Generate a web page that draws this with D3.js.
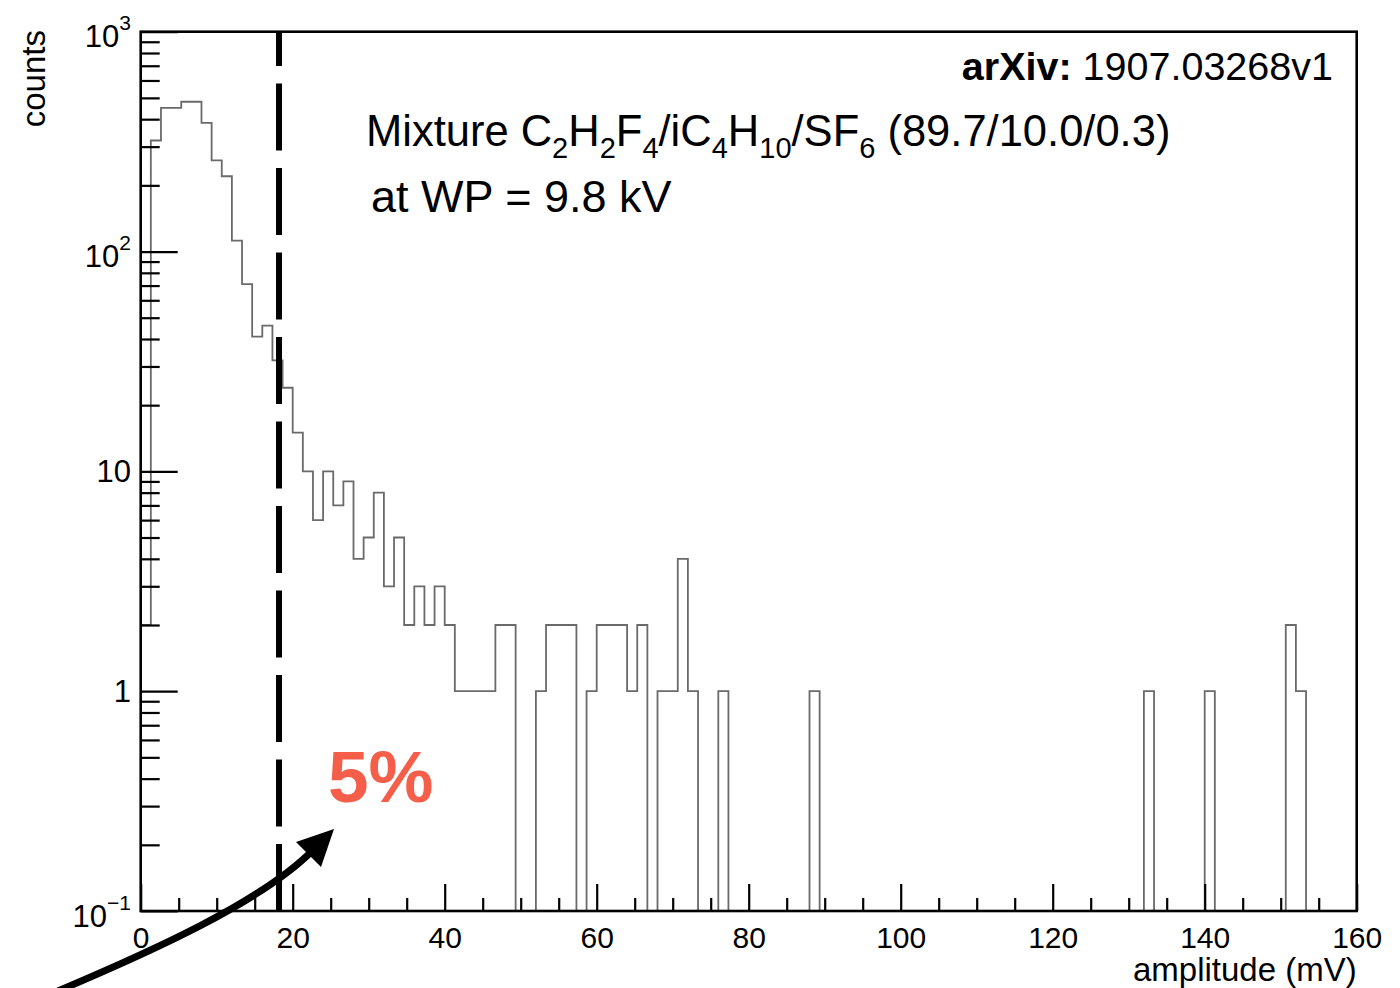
<!DOCTYPE html>
<html>
<head>
<meta charset="utf-8">
<script src="https://cdn.jsdelivr.net/npm/d3@7/dist/d3.min.js"></script>
<style>
  html, body { margin: 0; padding: 0; background: #fff; }
  svg { display: block; }
  text { font-family: "Liberation Sans", Arial, Helvetica, sans-serif; }
</style>
</head>
<body>
<svg id="chart" width="1400" height="988"></svg>
<script>
// ---- data ----
const xRange = [0, 160];          // amplitude (mV)
const nBins = 120;                // histogram binning
const counts = [
  2, 320, 450, 450, 480, 480, 385, 260, 220, 112,
  71, 41, 46, 32, 24, 15, 10, 6, 10, 7,
  9, 4, 5, 8, 3, 5, 2, 3, 2, 3,
  2, 1, 1, 1, 1, 2, 2, 0, 0, 1,
  2, 2, 2, 0, 1, 2, 2, 2, 1, 2,
  0, 1, 1, 4, 1, 0, 0, 1, 0, 0,
  0, 0, 0, 0, 0, 0, 1, 0, 0, 0,
  0, 0, 0, 0, 0, 0, 0, 0, 0, 0,
  0, 0, 0, 0, 0, 0, 0, 0, 0, 0,
  0, 0, 0, 0, 0, 0, 0, 0, 0, 1,
  0, 0, 0, 0, 0, 1, 0, 0, 0, 0,
  0, 0, 0, 2, 1, 0, 0, 0, 0, 0
];
const yRange = [0.1, 1000];
const xMajorTicks = [0, 20, 40, 60, 80, 100, 120, 140, 160];
const xMinorTicks = [5, 10, 15, 25, 30, 35, 45, 50, 55, 65, 70, 75, 85, 90, 95,
                     105, 110, 115, 125, 130, 135, 145, 150, 155];
const yMajorTicks = [0.1, 1, 10, 100, 1000];
const yMajorLabels = [["10", "\u22121"], ["1", ""], ["10", ""], ["10", "2"], ["10", "3"]];
const yMinorMult = [2, 3, 4, 5, 6, 7, 8, 9];
const cutValue = 18.2;            // dashed threshold (mV)
const annotation = "5%";

// ---- layout ----
const L = 140.7, R = 1356.7, T = 31.7, B = 911;
const svg = d3.select("#chart");
const x = d3.scaleLinear().domain(xRange).range([L, R]);
const y = d3.scaleLog().domain(yRange).range([B, T]);

// ---- histogram ----
const bw = (xRange[1] - xRange[0]) / nBins;
const pts = [[xRange[0], yRange[0]]];
counts.forEach((c, i) => {
  const v = c > 0 ? c : yRange[0];
  pts.push([xRange[0] + i * bw, v]);
  pts.push([xRange[0] + (i + 1) * bw, v]);
});
pts.push([xRange[1], yRange[0]]);
const line = d3.line().x(d => x(d[0])).y(d => y(d[1]));
svg.append("clipPath").attr("id", "clip")
  .append("rect").attr("x", L).attr("y", T).attr("width", R - L).attr("height", B - T);
svg.append("path")
  .attr("d", line(pts))
  .attr("clip-path", "url(#clip)")
  .attr("fill", "none")
  .attr("stroke", "#6a6a6a")
  .attr("stroke-width", 1.8);

// ---- frame ----
svg.append("rect")
  .attr("x", L).attr("y", T).attr("width", R - L).attr("height", B - T)
  .attr("fill", "none").attr("stroke", "#000").attr("stroke-width", 2.6);

// ---- x axis ----
const gx = svg.append("g").attr("transform", `translate(0,${B})`);
gx.call(d3.axisBottom(x).tickValues(xMajorTicks).tickSize(-27).tickPadding(0).tickFormat(d3.format("d")));
gx.select(".domain").remove();
gx.selectAll(".tick line").attr("stroke", "#000").attr("stroke-width", 2.2);
gx.selectAll(".tick text")
  .attr("y", 37).attr("dy", null)
  .attr("font-size", 30).attr("fill", "#000")
  .style("font-family", '"Liberation Sans", Arial, sans-serif');
const gx2 = svg.append("g").attr("transform", `translate(0,${B})`);
gx2.call(d3.axisBottom(x).tickValues(xMinorTicks).tickSize(-13).tickFormat(""));
gx2.select(".domain").remove();
gx2.selectAll(".tick line").attr("stroke", "#000").attr("stroke-width", 2.2);

// ---- y axis ----
const yMinor = [];
[0.1, 1, 10, 100].forEach(dec => yMinorMult.forEach(m => yMinor.push(dec * m)));
const gy = svg.append("g").attr("transform", `translate(${L},0)`);
gy.call(d3.axisLeft(y).tickValues(yMajorTicks).tickSize(-37).tickFormat(""));
gy.select(".domain").remove();
gy.selectAll(".tick line").attr("stroke", "#000").attr("stroke-width", 2.2);
const gy2 = svg.append("g").attr("transform", `translate(${L},0)`);
gy2.call(d3.axisLeft(y).tickValues(yMinor).tickSize(-19).tickFormat(""));
gy2.select(".domain").remove();
gy2.selectAll(".tick line").attr("stroke", "#000").attr("stroke-width", 2.2);

yMajorTicks.forEach((v, i) => {
  const [base, sup] = yMajorLabels[i];
  const t = svg.append("text")
    .attr("x", 131)
    .attr("y", y(v) + (sup ? 15.5 : 11))
    .attr("text-anchor", "end")
    .attr("font-size", 31)
    .attr("fill", "#000");
  t.append("tspan").text(base);
  if (sup) t.append("tspan").attr("dy", -17).attr("font-size", 21).text(sup);
});

// ---- axis titles ----
svg.append("text")
  .attr("transform", "translate(45,30) rotate(-90)")
  .attr("text-anchor", "end")
  .attr("font-size", 33)
  .attr("fill", "#000")
  .text("counts");
svg.append("text")
  .attr("x", R).attr("y", 981)
  .attr("text-anchor", "end")
  .attr("font-size", 33)
  .attr("fill", "#000")
  .text("amplitude (mV)");

// ---- dashed cut line ----
svg.append("line")
  .attr("x1", x(cutValue)).attr("x2", x(cutValue))
  .attr("y1", B).attr("y2", T)
  .attr("stroke", "#000").attr("stroke-width", 6)
  .attr("stroke-dasharray", "67,17.5");

// ---- texts ----
const ax = svg.append("text")
  .attr("x", 1333).attr("y", 80)
  .attr("text-anchor", "end")
  .attr("font-size", 39.5).attr("fill", "#000");
ax.append("tspan").attr("font-weight", "bold").text("arXiv:");
ax.append("tspan").text(" 1907.03268v1");

const mix = svg.append("text")
  .attr("x", 366).attr("y", 146)
  .attr("font-size", 43.5).attr("fill", "#000");
const parts = [["Mixture C", 0], ["2", 1], ["H", 0], ["2", 1], ["F", 0], ["4", 1],
               ["/iC", 0], ["4", 1], ["H", 0], ["10", 1], ["/SF", 0], ["6", 1],
               [" (89.7/10.0/0.3)", 0]];
let prevSub = 0;
parts.forEach(([s, sub]) => {
  const ts = mix.append("tspan").text(s);
  if (sub && !prevSub) ts.attr("dy", 12).attr("font-size", 29);
  if (sub && prevSub) ts.attr("font-size", 29);
  if (!sub && prevSub) ts.attr("dy", -12);
  prevSub = sub;
});

svg.append("text")
  .attr("x", 371).attr("y", 212)
  .attr("font-size", 45).attr("fill", "#000")
  .text("at WP = 9.8 kV");

svg.append("text")
  .attr("x", 328).attr("y", 802)
  .attr("font-size", 73).attr("font-weight", "bold")
  .attr("fill", "#f55f4a")
  .text(annotation);

// ---- arrow ----
svg.append("path")
  .attr("d", "M58,991 C150,952 262,902 313,850")
  .attr("fill", "none").attr("stroke", "#000").attr("stroke-width", 7);
svg.append("path")
  .attr("d", "M334,829 L296,842 L321,867 Z")
  .attr("fill", "#000");
</script>
</body>
</html>
